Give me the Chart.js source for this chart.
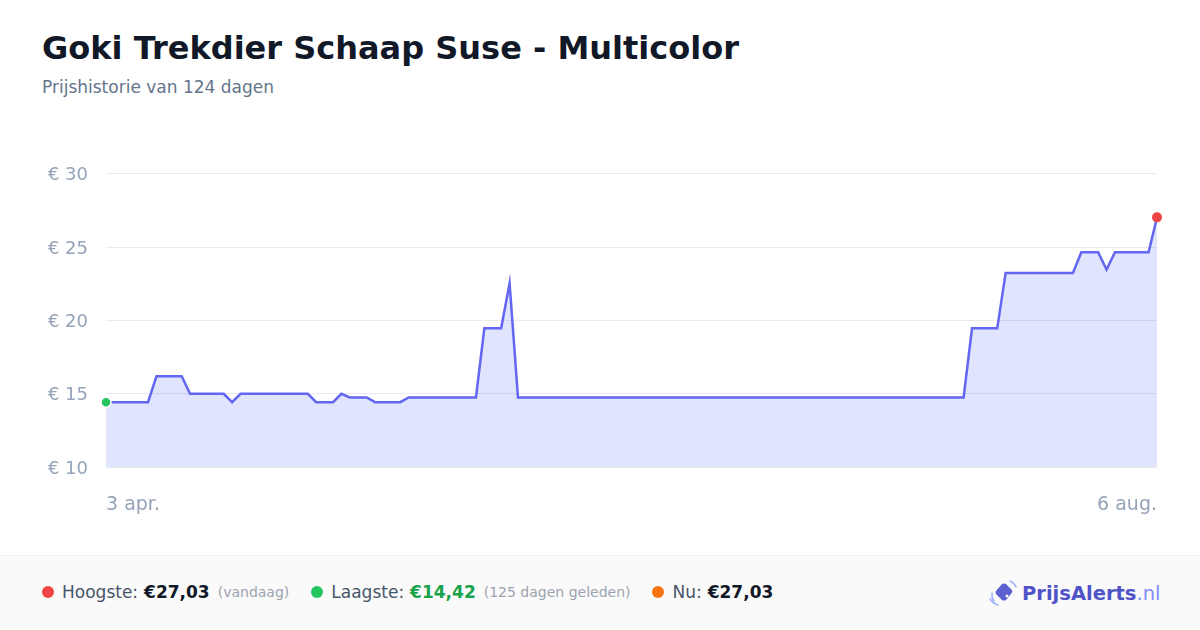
<!DOCTYPE html>
<html lang="nl">
<head>
<meta charset="utf-8">
<script src="https://cdn.jsdelivr.net/npm/chart.js@4.4.1/dist/chart.umd.min.js"></script>
<style>
  html, body { margin: 0; padding: 0; }
  body { width: 1200px; height: 630px; background: #fff; font-family: "DejaVu Sans", sans-serif; position: relative; overflow: hidden; }
  h1 { position: absolute; left: 42px; top: 29px; margin: 0; font-size: 32px; font-weight: bold; color: #111827; letter-spacing: 0; }
  .sub { position: absolute; left: 42px; top: 77px; font-size: 17px; color: #64748b; }
  .chart-box { position: absolute; left: 40px; top: 145px; width: 1144px; height: 375px; }
  .footer { position: absolute; left: 0; top: 555px; width: 1200px; height: 75px; background: #fafafa; border-top: 1px solid #f0f0f2; }
  .stats { position: absolute; left: 42px; top: 26px; display: flex; align-items: center; font-size: 17px; color: #475569; white-space: nowrap; }
  .dot { width: 12px; height: 12px; border-radius: 50%; display: inline-block; margin-right: 8px; }
  .item { display: flex; align-items: center; margin-right: 22px; }
  .item b { color: #111827; margin-left: 6px; }
  .item small { font-size: 14px; color: #9ca3af; margin-left: 8px; }
  .logo { position: absolute; left: 989px; top: 22px; display: flex; align-items: center; }
  .logo span { font-size: 19.5px; font-weight: bold; color: #4f52c8; margin-left: 3px; }
  .logo span i { font-style: normal; font-weight: normal; color: #818cf8; }
</style>
</head>
<body>
<h1>Goki Trekdier Schaap Suse - Multicolor</h1>
<div class="sub">Prijshistorie van 124 dagen</div>
<div class="chart-box"><canvas id="chart"></canvas></div>
<div class="footer">
  <div class="stats">
    <div class="item"><span class="dot" style="background:#ef4444"></span>Hoogste:<b>€27,03</b><small>(vandaag)</small></div>
    <div class="item"><span class="dot" style="background:#22c55e"></span>Laagste:<b style="color:#16a34a">€14,42</b><small>(125 dagen geleden)</small></div>
    <div class="item"><span class="dot" style="background:#f97316"></span>Nu:<b>€27,03</b></div>
  </div>
  <div class="logo">
    <svg width="30" height="30" viewBox="0 0 30 30">
      <path d="M5 23 A11 11 0 0 1 3 15" fill="none" stroke="#a5b4fc" stroke-width="1.6" stroke-linecap="round"/>
      <path d="M9 27 A15 15 0 0 1 1 21" fill="none" stroke="#a5b4fc" stroke-width="1.6" stroke-linecap="round"/>
      <path d="M21 3 A11 11 0 0 1 27 9" fill="none" stroke="#a5b4fc" stroke-width="1.6" stroke-linecap="round"/>
      <path d="M7 13 L13 6 Q15 5 17 6 L23 12 Q24 14 22 16 L17 22 Q15 23 13 22 L7 16 Q6 14 7 13 Z" fill="#5b5fd0"/>
      <circle cx="18" cy="18" r="1.5" fill="#fff"/>
    </svg>
    <span>PrijsAlerts<i>.nl</i></span>
  </div>
</div>
<script>
/* ── Data: day offset from 3 apr. and price at each turning point ── */
const days = [0, 5, 6, 9, 10, 14, 15, 16, 24, 25, 27, 28, 29, 31, 32, 35, 36, 44, 45, 47, 48, 49, 102, 103, 106, 107, 115, 116, 118, 119, 120, 124, 125];
const prices = [14.42, 14.42, 16.19, 16.19, 14.99, 14.99, 14.42, 14.99, 14.99, 14.42, 14.42, 14.99, 14.74, 14.74, 14.42, 14.42, 14.74, 14.74, 19.46, 19.46, 22.54, 14.74, 14.74, 19.46, 19.46, 23.24, 23.24, 24.65, 24.65, 23.47, 24.65, 24.65, 27.03];
const xTickDays = [0, 125];
const xTickLabels = ['3 apr.', '6 aug.'];
const yTicks = [10, 15, 20, 25, 30];

const points = days.map((d, i) => ({ x: d, y: prices[i] }));
const last = points.length - 1;

new Chart(document.getElementById('chart'), {
    type: 'line',
    data: {
        datasets: [{
            data: points,
            borderColor: '#6366f1',
            borderWidth: 2.5,
            backgroundColor: 'rgba(99,120,241,0.2)',
            fill: 'origin',
            tension: 0,
            clip: false,
            pointRadius: points.map((_, i) => (i === 0 || i === last) ? 5 : 0),
            pointBackgroundColor: points.map((_, i) => i === 0 ? '#22c55e' : '#ef4444'),
            pointBorderColor: '#ffffff',
            pointBorderWidth: points.map((_, i) => i === 0 ? 1.5 : 0),
        }],
    },
    options: {
        responsive: true, maintainAspectRatio: false,
        animation: false,
        layout: { autoPadding: false, padding: { top: 13, right: 14, left: 0, bottom: 0 } },
        plugins: { legend: { display: false }, tooltip: { enabled: false } },
        scales: {
            x: {
                type: 'linear', min: 0, max: 125,
                afterBuildTicks: axis => { axis.ticks = xTickDays.map(v => ({ value: v })); },
                afterFit: axis => { axis.height = 53; },
                ticks: {
                    align: 'inner', padding: 27, maxRotation: 0, autoSkip: false,
                    color: '#94a3b8', font: { family: 'DejaVu Sans', size: 19 },
                    callback: v => xTickLabels[xTickDays.indexOf(v)] ?? '',
                },
                grid: { display: false, drawTicks: false },
                border: { display: false },
            },
            y: {
                min: 10, max: 30,
                afterBuildTicks: axis => { axis.ticks = yTicks.map(v => ({ value: v })); },
                afterFit: axis => { axis.width = 66; },
                ticks: {
                    padding: 18, labelOffset: 2, color: '#94a3b8', font: { family: 'DejaVu Sans', size: 18 },
                    callback: v => `€ ${v}`,
                },
                grid: { color: '#e8eaee', lineWidth: 1, drawTicks: false },
                border: { display: false },
            },
        },
    },
});
</script>
</body>
</html>
